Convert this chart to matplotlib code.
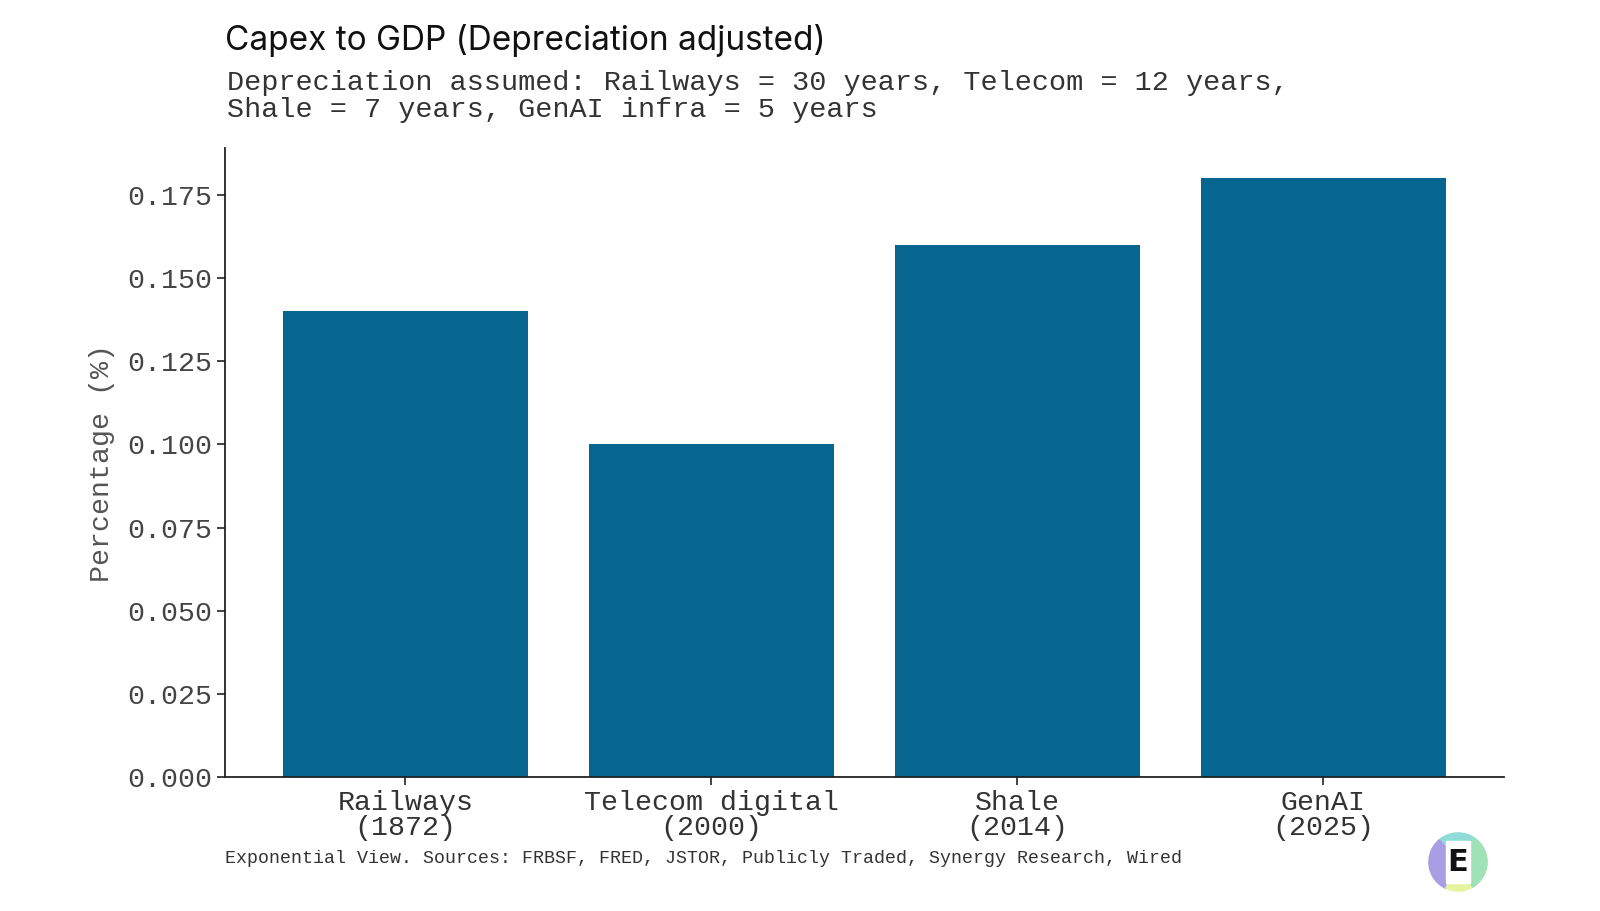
import matplotlib
matplotlib.use("Agg")
import matplotlib.pyplot as plt
from matplotlib.patches import Wedge, Rectangle

categories = ["Railways\n(1872)", "Telecom digital\n(2000)", "Shale\n(2014)", "GenAI\n(2025)"]
values = [0.14, 0.10, 0.16, 0.18]
yticks = [0.0, 0.025, 0.05, 0.075, 0.10, 0.125, 0.15, 0.175]

title = "Capex to GDP (Depreciation adjusted)"
subtitle = "Depreciation assumed: Railways = 30 years, Telecom = 12 years,\nShale = 7 years, GenAI infra = 5 years"
footer = "Exponential View. Sources: FRBSF, FRED, JSTOR, Publicly Traded, Synergy Research, Wired"

mono = "Liberation Mono"
bar_color = "#07668f"

fig = plt.figure(figsize=(16, 9.11), dpi=100)
ax = fig.add_axes([0.1405, 0.1469, 0.7995, 0.6905])

x = list(range(len(categories)))
ax.bar(x, values, width=0.8, color=bar_color)
ax.set_xticks(x)
ax.set_xticklabels(categories, family=mono, fontsize=20.3, color="#333333", linespacing=0.95)
ax.set_yticks(yticks)
ax.set_yticklabels([f"{v:.3f}" for v in yticks], family=mono, fontsize=20.3, color="#444444")
ax.set_ylabel("Percentage (%)", family=mono, fontsize=20.3, color="#555555", labelpad=9)

for s in ["top", "right"]:
    ax.spines[s].set_visible(False)
for s in ["left", "bottom"]:
    ax.spines[s].set_linewidth(1.3)
    ax.spines[s].set_color("#222222")
ax.tick_params(axis="both", length=6, width=1.2, color="#222222", pad=3)

fig.text(0.1405, 0.955, title, family="Inter", fontsize=24, color="#111111", va="center", ha="left")
fig.text(0.1418, 0.8945, subtitle, family=mono, fontsize=20.5, color="#333333", va="center", ha="left", linespacing=1.05)
fig.text(0.1405, 0.058, footer, family=mono, fontsize=13.15, color="#333333", va="center", ha="left")

# logo
lax = fig.add_axes([1428/1600, 1 - 892/911, 60/1600, 60/911])
lax.set_xlim(-1, 1); lax.set_ylim(-1, 1); lax.set_aspect("equal"); lax.axis("off")
segs = [(55, 130, "#8fdcd6"), (130, 245, "#a99de3"), (245, 300, "#e6f4a0"), (300, 415, "#9fe2b6")]
for a0, a1, c in segs:
    lax.add_patch(Wedge((0, 0), 0.97, a0, a1, color=c))
lax.add_patch(Rectangle((-0.4, -0.7), 0.8, 1.4, color="white"))
lax.text(0, -0.02, "E", ha="center", va="center", fontsize=22, fontweight="bold", family="DejaVu Sans", color="#111111")

fig.savefig("out.png", dpi=100, facecolor="white")
